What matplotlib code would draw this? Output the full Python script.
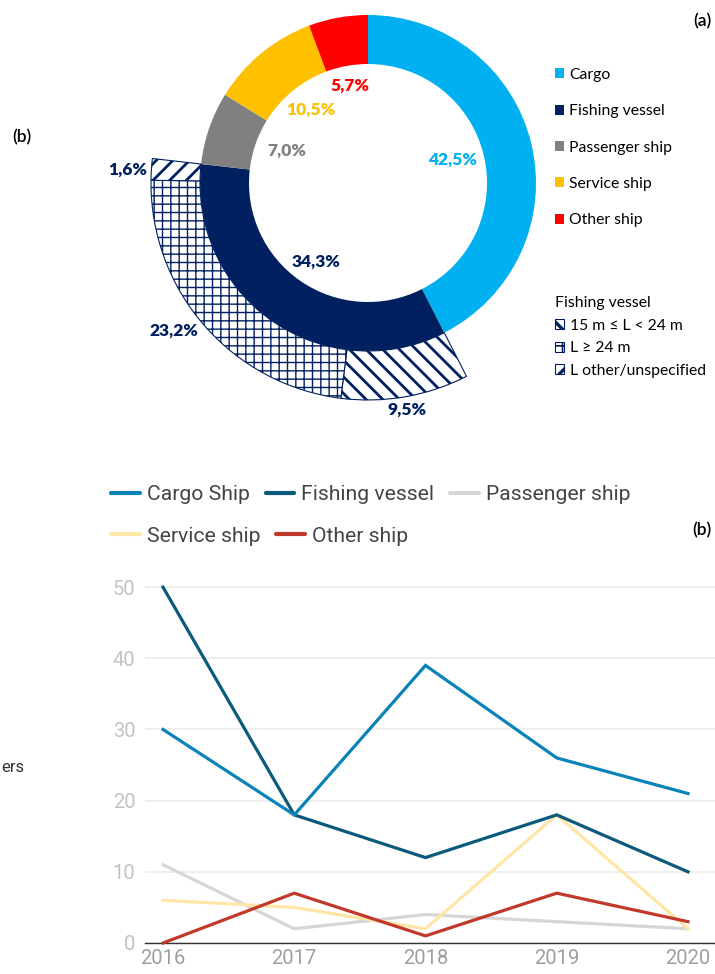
import matplotlib
matplotlib.use("Agg")
import matplotlib.pyplot as plt
from matplotlib.patches import Patch
from matplotlib.lines import Line2D

# ---------------- data ----------------
categories = ["Cargo", "Fishing vessel", "Passenger ship", "Service ship", "Other ship"]
shares = [42.5, 34.3, 7.0, 10.5, 5.7]
colors_a = ["#00B0F0", "#002060", "#808080", "#FFC000", "#FF0000"]

fishing_sub_labels = ["15 m \u2264 L < 24 m", "L \u2265 24 m", "L other/unspecified"]
fishing_sub_shares = [9.5, 23.2, 1.6]
fishing_sub_hatches = ["\\\\", "++", "//"]

years = [2016, 2017, 2018, 2019, 2020]
series_names = ["Cargo Ship", "Fishing vessel", "Passenger ship", "Service ship", "Other ship"]
cargo = [30, 18, 39, 26, 21]
fishing = [50, 18, 12, 18, 10]
passenger = [11, 2, 4, 3, 2]
service = [6, 5, 2, 18, 2]
other = [0, 7, 1, 7, 3]
line_colors = ["#0A84B8", "#0B5A7D", "#D6D6D6", "#FFE6A6", "#C0392B"]
yticks = [0, 10, 20, 30, 40, 50]

W, H = 715, 974
fig = plt.figure(figsize=(W / 100, H / 100), dpi=100)

# ---------------- donut (pixel-unit axes) ----------------
axd = fig.add_axes([0, 0, 1, 1])
cx, cy = 368, H - 183
navy = "#002060"

axd.pie(shares, colors=colors_a, startangle=90, counterclock=False, radius=168,
        center=(cx, cy), wedgeprops=dict(width=49, linewidth=0, edgecolor="none"))

start = 90 - shares[0] * 3.6
hlw = [2.0, 1.0, 2.0]
for v, h, lw in zip(fishing_sub_shares, fishing_sub_hatches, hlw):
    wedges, _ = axd.pie([v, 100 - v], startangle=start, counterclock=False, radius=217,
                        center=(cx, cy), colors=["white", "white"],
                        wedgeprops=dict(width=49, linewidth=0.8, edgecolor=navy))
    wedges[0].set_hatch(h)
    if hasattr(wedges[0], "set_hatch_linewidth"):
        wedges[0].set_hatch_linewidth(lw)
    wedges[1].set_visible(False)
    start -= v * 3.6

axd.set_xlim(0, W)
axd.set_ylim(0, H)
axd.set_aspect("auto")
axd.axis("off")

def fmt(v):
    return f"{v:.1f}".replace(".", ",") + "%"

lab_font = ["Lato", "DejaVu Sans"]
main_pos = [(453, 160), (316, 262), (287, 151), (311, 110), (350, 86)]
main_lab_col = ["#00B0F0", navy, "#808080", "#FFC000", "#FF0000"]
for v, (x, y), c in zip(shares, main_pos, main_lab_col):
    axd.text(x, H - y, fmt(v), color=c, fontsize=12.5, fontweight="heavy",
             ha="center", va="center", family=lab_font)
sub_pos = [(407, 410), (174, 331), (128, 170)]
for v, (x, y) in zip(fishing_sub_shares, sub_pos):
    axd.text(x, H - y, fmt(v), color=navy, fontsize=12.5, fontweight="heavy",
             ha="center", va="center", family=lab_font)

axd.text(702, H - 21, "(a)", fontsize=12.5, fontweight="semibold", ha="center",
         va="center", family=lab_font)
axd.text(22, H - 137, "(b)", fontsize=12.5, fontweight="semibold", ha="center",
         va="center", family=lab_font)
axd.text(702, H - 530, "(b)", fontsize=12.5, fontweight="semibold", ha="center",
         va="center", family=lab_font)
axd.text(1, H - 768, "ers", fontsize=12, ha="left", va="center",
         family=["Roboto", "DejaVu Sans"], color="#333333")

# legend (a)
handles_a = [Patch(facecolor=c, edgecolor="none") for c in colors_a]
fig.legend(handles_a, categories, loc="upper left",
           bbox_to_anchor=(555 / W, 1 - 68 / H), frameon=False, borderpad=0,
           borderaxespad=0, handlelength=0.6, handleheight=0.6, handletextpad=0.3,
           labelspacing=1.42, prop=dict(family=lab_font, size=11.3))

# fishing sub legend
handles_s = [Patch(facecolor="white", edgecolor=navy, hatch=h, linewidth=0.8)
             for h in fishing_sub_hatches]
leg_s = fig.legend(handles_s, fishing_sub_labels, loc="upper left",
                   bbox_to_anchor=(555 / W, 1 - 296 / H), frameon=False, borderpad=0,
                   borderaxespad=0, handlelength=0.6, handleheight=0.6,
                   handletextpad=0.35, labelspacing=0.55, title="Fishing vessel",
                   alignment="left", prop=dict(family=lab_font, size=11.3),
                   title_fontproperties=dict(family=lab_font, size=11.3))
for hnd, lw in zip(leg_s.legend_handles, hlw):
    if hasattr(hnd, "set_hatch_linewidth"):
        hnd.set_hatch_linewidth(lw * 1.2)

# ---------------- line chart ----------------
px_per_year = (688 - 163) / 4
x0 = years[0] - (163 - 145) / px_per_year
x1 = years[-1] + (715 - 688) / px_per_year
y_top = 51
axl = fig.add_axes([145 / W, (H - 943) / H, (715 - 145) / W, (943 - 580) / H])
axl.patch.set_alpha(0)
data_series = [cargo, fishing, passenger, service, other]
order = [2, 3, 4, 1, 0]
for i in order:
    axl.plot(years, data_series[i], color=line_colors[i], lw=2.3, zorder=3 + order.index(i),
             clip_on=False, solid_joinstyle="miter")
axl.set_xlim(x0, x1)
axl.set_ylim(0, y_top)
axl.set_xticks(years)
axl.set_yticks(yticks)
axl.grid(axis="y", color="#EBEBEB", lw=1.2)
axl.set_axisbelow(True)
for s in ["top", "right", "left"]:
    axl.spines[s].set_visible(False)
axl.spines["bottom"].set_color("#333333")
axl.spines["bottom"].set_linewidth(1.0)
axl.spines["bottom"].set_zorder(2)
axl.tick_params(axis="both", length=0)
axl.tick_params(axis="y", pad=7, labelcolor="#C2C2C2", labelsize=14.5)
axl.tick_params(axis="x", pad=4, labelcolor="#9E9E9E", labelsize=14.5)
for t in axl.get_xticklabels() + axl.get_yticklabels():
    t.set_family(["Roboto", "DejaVu Sans"])

line_handles = [Line2D([0], [0], color=c, lw=3, solid_capstyle="round") for c in line_colors]
common = dict(frameon=False, borderpad=0, borderaxespad=0, handlelength=1.35,
              handletextpad=0.35, columnspacing=0.75,
              prop=dict(family=["Roboto", "DejaVu Sans"], size=15.2), labelcolor="#444444")
fig.legend(line_handles[:3], series_names[:3], ncol=3, loc="center left",
           bbox_to_anchor=(111 / W, 1 - 495 / H), **common)
fig.legend(line_handles[3:], series_names[3:], ncol=2, loc="center left",
           bbox_to_anchor=(111 / W, 1 - 536 / H), **common)

fig.savefig("out.png", dpi=100)
